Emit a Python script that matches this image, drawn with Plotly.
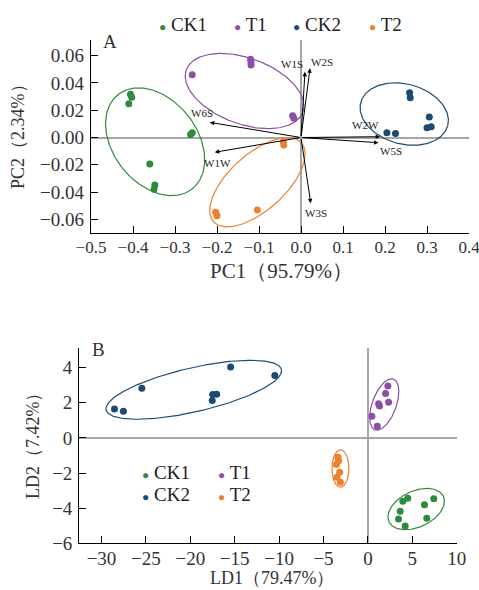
import numpy as np
import plotly.graph_objects as go

# ---------------- data ----------------
groups = ["CK1", "T1", "CK2", "T2"]
colors = {"CK1": "#2f8a3c", "T1": "#8d4fa6", "CK2": "#1b4a72", "T2": "#ee7f2d"}

# Panel A: PCA scores
pca_x = {
    "CK1": [-0.406, -0.403, -0.410, -0.259, -0.263, -0.360, -0.348, -0.350],
    "T1": [-0.259, -0.120, -0.119, -0.119, -0.020, -0.017],
    "CK2": [0.2585, 0.260, 0.3055, 0.2045, 0.225, 0.300, 0.310],
    "T2": [-0.042, -0.041, -0.203, -0.200, -0.104],
}
pca_y = {
    "CK1": [0.0317, 0.0295, 0.0248, 0.0035, 0.0023, -0.0194, -0.0348, -0.0380],
    "T1": [0.0460, 0.0573, 0.0553, 0.0531, 0.0160, 0.0141],
    "CK2": [0.0328, 0.0292, 0.0150, 0.0035, 0.0030, 0.0072, 0.0079],
    "T2": [-0.0031, -0.0055, -0.0548, -0.0573, -0.0532],
}
# PCA loadings (sensor vectors)
sensors = ["W1S", "W2S", "W6S", "W1W", "W2W", "W5S", "W3S"]
load_x = [0.0095, 0.0215, -0.2172, -0.2053, 0.1885, 0.1846, 0.0232]
load_y = [0.0482, 0.0507, 0.0111, -0.0108, 0.0006, -0.0038, -0.0482]

# Panel B: LDA scores
lda_x = {
    "CK1": [3.93, 4.49, 7.42, 6.37, 3.64, 3.45, 6.63, 4.20],
    "T1": [2.25, 1.99, 2.33, 1.20, 1.31, 0.45, 1.06],
    "CK2": [-28.54, -27.53, -25.46, -15.46, -10.48, -17.48, -17.03, -17.53],
    "T2": [-3.37, -3.55, -3.18, -3.30, -3.48, -3.10],
}
lda_y = {
    "CK1": [-3.61, -3.44, -3.47, -3.80, -4.18, -4.62, -4.58, -5.02],
    "T1": [2.96, 2.53, 2.03, 1.95, 1.82, 1.23, 0.66],
    "CK2": [1.65, 1.51, 2.83, 4.03, 3.55, 2.47, 2.49, 2.13],
    "T2": [-1.10, -1.51, -1.95, -1.30, -2.24, -2.53],
}

xticks_A = [-0.5, -0.4, -0.3, -0.2, -0.1, 0.0, 0.1, 0.2, 0.3, 0.4]
yticks_A = [-0.06, -0.04, -0.02, 0.0, 0.02, 0.04, 0.06]
xticks_B = [-30, -25, -20, -15, -10, -5, 0, 5, 10]
yticks_B = [-6, -4, -2, 0, 2, 4]

# ---------------- layout geometry ----------------
W, H = 479, 590
A_px = (91, 469, 40, 233)     # left, right, top, bottom in px
B_px = (79.3, 456.7, 348.3, 543.3)
A_xr, A_yr = [-0.5, 0.4], [-0.070, 0.0715]
B_xr, B_yr = [-32.5, 10], [-6, 5.1]

def dom(px):
    l, r, t, b = px
    return [l / W, r / W], [1 - b / H, 1 - t / H]

def ppu(px, xr, yr):
    l, r, t, b = px
    return (r - l) / (xr[1] - xr[0]), (b - t) / (yr[1] - yr[0])

kxA, kyA = ppu(A_px, A_xr, A_yr)
kxB, kyB = ppu(B_px, B_xr, B_yr)

# ellipse: center (data), semi-axes (screen px), angle (deg, screen)
ell_A = {
    "CK1": (-0.3473, -0.0031, 60, 42, 52),
    "T1": (-0.1344, 0.0341, 62, 33, 20),
    "CK2": (0.2458, 0.0172, 45, 30, 15),
    "T2": (-0.1038, -0.0328, 59, 28, -42),
}
ell_B = {
    "CK1": (5.44, -4.05, 30, 18, -25),
    "T1": (1.84, 1.90, 27, 12, -70),
    "CK2": (-19.61, 2.74, 90, 22, -13),
    "T2": (-3.09, -1.74, 18.7, 8.5, 90),
}

def ellipse(p, kx, ky):
    cx, cy, a, b, ang = p
    t = np.linspace(0, 2 * np.pi, 241)
    th = np.deg2rad(ang)
    u = a * np.cos(t) * np.cos(th) - b * np.sin(t) * np.sin(th)
    v = a * np.cos(t) * np.sin(th) + b * np.sin(t) * np.cos(th)
    return cx + u / kx, cy - v / ky

fig = go.Figure()
FONT = "Liberation Serif, Times New Roman, serif"

for g in groups:
    ex, ey = ellipse(ell_A[g], kxA, kyA)
    fig.add_trace(go.Scatter(x=ex, y=ey, mode="lines", line=dict(color=colors[g], width=1.2),
                             xaxis="x", yaxis="y", showlegend=False, hoverinfo="skip"))
    ex, ey = ellipse(ell_B[g], kxB, kyB)
    fig.add_trace(go.Scatter(x=ex, y=ey, mode="lines", line=dict(color=colors[g], width=1.2),
                             xaxis="x2", yaxis="y2", showlegend=False, hoverinfo="skip"))

for g in groups:
    fig.add_trace(go.Scatter(x=pca_x[g], y=pca_y[g], mode="markers", name=g,
                             marker=dict(color=colors[g], size=7), xaxis="x", yaxis="y",
                             showlegend=False))
    fig.add_trace(go.Scatter(x=lda_x[g], y=lda_y[g], mode="markers", name=g,
                             marker=dict(color=colors[g], size=7), xaxis="x2", yaxis="y2",
                             showlegend=False))

annotations = []
# loading arrows
label_shift = {"W1S": (-13, 8), "W2S": (12, 6), "W6S": (-8, 9), "W1W": (3, -11),
               "W2W": (-15, 12), "W5S": (12, -8), "W3S": (5, -10)}
for s, lx, ly in zip(sensors, load_x, load_y):
    annotations.append(dict(x=lx, y=ly, ax=0, ay=0, xref="x", yref="y", axref="x", ayref="y",
                            showarrow=True, arrowhead=2, arrowsize=0.9, arrowwidth=1,
                            arrowcolor="black", text=""))
    dx, dy = label_shift[s]
    annotations.append(dict(x=lx, y=ly, xref="x", yref="y", text=s, showarrow=False,
                            xanchor="center", yanchor="middle",
                            xshift=dx, yshift=dy, font=dict(family=FONT, size=11, color="#222")))

def legend_item(xp, yp, g):
    return dict(x=xp / W, y=1 - yp / H, xref="paper", yref="paper", xanchor="left",
                yanchor="middle", showarrow=False,
                text='<span style="color:%s;font-size:12px">●</span> %s' % (colors[g], g),
                font=dict(family=FONT, size=19, color="#222"))

# legend A (top row)
for g, xp in zip(groups, [157, 232, 291, 367]):
    annotations.append(legend_item(xp, 24, g))
# legend B (2x2)
for g, (xp, yp) in zip(["CK1", "T1", "CK2", "T2"], [(140, 472), (216, 472), (140, 494), (216, 494)]):
    annotations.append(legend_item(xp, yp, g))

def label(xp, yp, text, size, angle=0):
    return dict(x=xp / W, y=1 - yp / H, xref="paper", yref="paper", text=text,
                showarrow=False, xanchor="center", yanchor="middle", textangle=angle,
                font=dict(family=FONT, size=size, color="#333"))

# panel letters and axis titles
annotations += [
    label(110, 41, "A", 19),
    label(98, 349, "B", 19),
    label(281, 271, "PC1（95.79%）", 21),
    label(18, 132, "PC2（2.34%）", 18, -90),
    label(272, 578, "LD1（79.47%）", 18),
    label(33, 441, "LD2（7.42%）", 18, -90),
]

axis_common = dict(showline=True, linecolor="black", linewidth=1.3, ticks="inside",
                   ticklen=7, tickwidth=1.2, tickcolor="black", showgrid=False,
                   zeroline=True, zerolinecolor="#a6a6a6", zerolinewidth=1.5, automargin=False,
                   ticklabeloverflow="allow", mirror=False)
tf = dict(family=FONT, size=19, color="#333")

dAx, dAy = dom(A_px)
dBx, dBy = dom(B_px)
fig.update_layout(
    template="none",
    width=W, height=H, margin=dict(l=0, r=0, t=0, b=0, pad=0),
    paper_bgcolor="white", plot_bgcolor="white", showlegend=False,
    xaxis=dict(domain=dAx, range=A_xr, tickvals=xticks_A, tickformat=".1f", anchor="y",
               ticklabelstandoff=-2, tickfont=dict(tf, size=17), **axis_common),
    yaxis=dict(domain=dAy, range=A_yr, tickvals=yticks_A, tickformat=".2f", anchor="x",
               ticklabelstandoff=2, tickfont=tf, **axis_common),
    xaxis2=dict(domain=dBx, range=B_xr, tickvals=xticks_B, anchor="y2",
                ticklabelstandoff=-2, tickfont=tf, **axis_common),
    yaxis2=dict(domain=dBy, range=B_yr, tickvals=yticks_B, anchor="x2",
                ticklabelstandoff=2, tickfont=tf, **axis_common),
    annotations=annotations,
)

fig.write_html("out.html")
